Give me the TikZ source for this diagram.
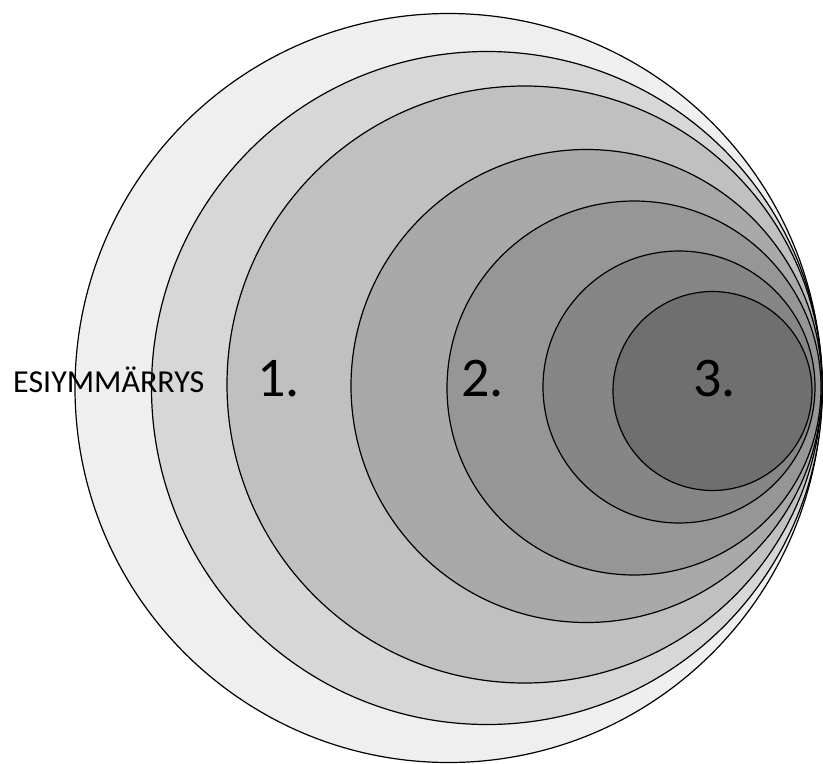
\documentclass[tikz,border=0pt]{standalone}
\usepackage{fontspec}
\setmainfont{Carlito}
\begin{document}
\begin{tikzpicture}[x=1pt,y=-1pt,
  ring/.style={draw=black,line width=1.2pt},
  lbl/.style={inner sep=0pt,anchor=base west,font=\fontsize{32}{32}\selectfont},
  num/.style={inner sep=0pt,anchor=base west,font=\fontsize{56}{56}\selectfont}]
\useasboundingbox[fill=white] (0,0) rectangle (823,764);
\definecolor{c1}{HTML}{EFEFEF}
\definecolor{c2}{HTML}{D7D7D7}
\definecolor{c3}{HTML}{C0C0C0}
\definecolor{c4}{HTML}{A9A9A9}
\definecolor{c5}{HTML}{969696}
\definecolor{c6}{HTML}{868686}
\definecolor{c7}{HTML}{6F6F6F}
\path[ring,fill=c1] (448.5,388) ellipse [x radius=373.5, y radius=374.5];
\path[ring,fill=c2] (487,388) ellipse [x radius=335.5, y radius=336.5];
\path[ring,fill=c3] (524.5,384.5) ellipse [x radius=297.5, y radius=298.5];
\path[ring,fill=c4] (586.5,386) ellipse [x radius=235.5, y radius=236.5];
\path[ring,fill=c5] (634,388) ellipse [x radius=187, y radius=187];
\path[ring,fill=c6] (679,387) ellipse [x radius=136, y radius=136];
\path[ring,fill=c7] (712.5,391) ellipse [x radius=99.5, y radius=99.5];
\node[lbl] (pre) at (13,392) {ESIYMMÄRRYS};
\node[num] (n1) at (257,396) {1.};
\node[num] (n2) at (461,396) {2.};
\node[num] (n3) at (693,396) {3.};
\end{tikzpicture}
\end{document}
